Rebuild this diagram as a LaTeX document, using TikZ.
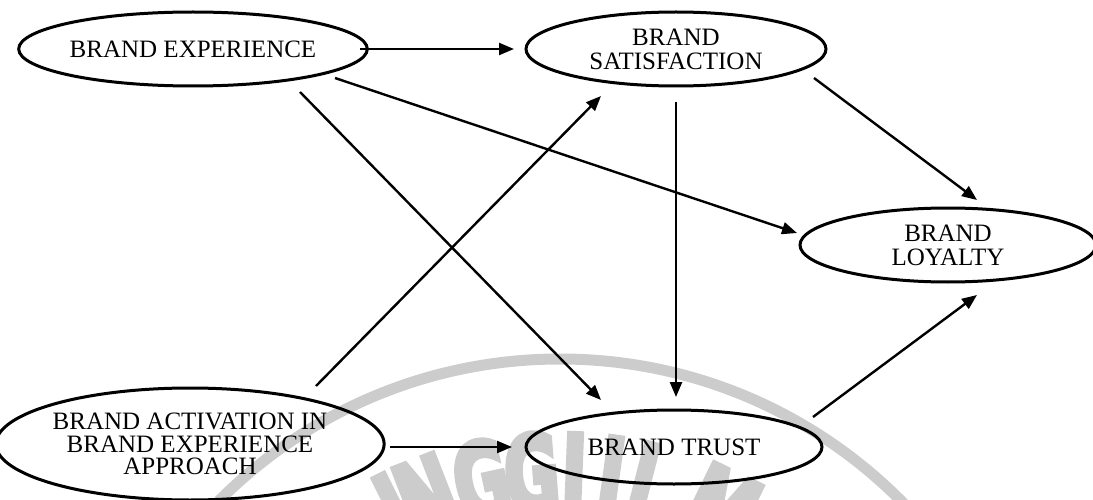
\documentclass[tikz,border=0pt]{standalone}
\usepackage{fontspec}
\setmainfont{Liberation Serif}
\newfontfamily\wmfont{DejaVu Sans}
\usetikzlibrary{shapes.geometric,arrows.meta,calc}
\definecolor{wmgray}{RGB}{204,204,204}
\newcommand{\wmthick}[1]{\special{pdf:literal direct 2 Tr 7 w}#1\special{pdf:literal direct 0 Tr}}
\begin{document}
\begin{tikzpicture}[x=1pt,y=-1pt,
  construct/.style={ellipse, draw, line width=3pt, inner sep=0pt,
    minimum width=300pt, minimum height=74pt, align=center,
    font=\fontsize{25}{24}\selectfont},
  link/.style={line width=2.4pt, -{Triangle[length=15pt,width=12pt]}},
  wmarc/.style={draw=wmgray, line width=11pt},
  wmletter/.style={text=wmgray, font=\wmfont\bfseries\fontsize{104}{104}\selectfont,
    inner sep=0pt, anchor=base}
]
\useasboundingbox (0,0) rectangle (1093,500);

% watermark
\begin{scope}
  \clip (0,0) rectangle (1093,500);
  \draw[wmarc] (560,840) circle[radius=481pt];
  \foreach \ang/\ch in {-26.5/I,-21.2/N,-12.3/G,-4.4/G,2.2/I,8.0/I,14.4/L,26.0/M}{
    \node[wmletter, rotate=-\ang, xscale=0.64] at ($(560,840)+({-90+\ang}:330)$) {\wmthick{\ch}};
  }
\end{scope}

% constructs
\node[construct] (exp) at (193,49) {BRAND EXPERIENCE};
\node[construct] (sat) at (676,49) {BRAND\\SATISFACTION};
\node[construct, minimum width=296pt] (loy) at (948,245) {BRAND\\LOYALTY};
\node[construct, minimum width=296pt] (tru) at (674,447) {BRAND TRUST};
\node[construct, minimum width=364pt, minimum height=112pt,
      font=\fontsize{25}{22.5}\selectfont] (act) at (190,444)
      {BRAND ACTIVATION IN\\BRAND EXPERIENCE\\APPROACH};

% connectors
\draw[link] ($(exp.center)+(167,0)$) -- ($(sat.center)+(-162,0)$);
\draw[link] ($(exp.center)+(142,29)$) -- ($(loy.center)+(-151,-12)$);
\draw[link] ($(exp.center)+(107,43)$) -- ($(tru.center)+(-73,-47)$);
\draw[link] ($(act.center)+(126,-58)$) -- ($(sat.center)+(-75,47)$);
\draw[link] ($(sat.center)+(0,53)$) -- ($(tru.center)+(2,-50)$);
\draw[link] ($(sat.center)+(138,29)$) -- ($(loy.center)+(29,-45)$);
\draw[link] ($(tru.center)+(139,-30)$) -- ($(loy.center)+(29,50)$);
\draw[link] ($(act.center)+(200,3)$) -- ($(tru.center)+(-162,0)$);
\end{tikzpicture}
\end{document}
